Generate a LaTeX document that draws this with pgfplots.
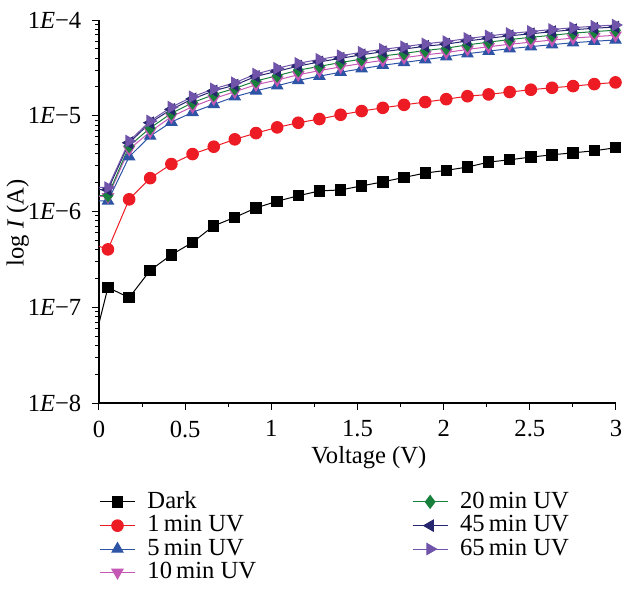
\documentclass[border=0pt]{standalone}
\usepackage{fontspec}
\setmainfont{Liberation Serif}
\usepackage{pgfplots}
\usepackage{pgfplotstable}
\pgfplotsset{compat=1.18}
\definecolor{redc}{RGB}{237,28,36}
\definecolor{bluec}{RGB}{46,84,166}
\definecolor{magc}{RGB}{196,88,180}
\definecolor{greenc}{RGB}{24,128,60}
\definecolor{navyc}{RGB}{38,38,110}
\definecolor{purc}{RGB}{112,84,170}
\pgfplotstableread{
x dark r1 r5 r10 r20 r45 r65
-0.071 2.1e-8 4.8e-7 1.30e-6 1.42e-6 1.47e-6 1.70e-6 1.80e-6
0.052 1.61e-7 4.02e-7 1.29e-6 1.42e-6 1.47e-6 1.69e-6 1.78e-6
0.175 1.26e-7 1.34e-6 3.73e-6 4.46e-6 4.83e-6 5.22e-6 5.44e-6
0.297 2.43e-7 2.23e-6 6.14e-6 6.81e-6 7.45e-6 8.45e-6 8.81e-6
0.420 3.53e-7 3.13e-6 8.59e-6 9.77e-6 1.06e-5 1.167e-5 1.23e-5
0.543 4.76e-7 3.98e-6 1.086e-5 1.245e-5 1.37e-5 1.50e-5 1.58e-5
0.666 7.09e-7 4.75e-6 1.315e-5 1.51e-5 1.66e-5 1.82e-5 1.91e-5
0.788 8.68e-7 5.67e-6 1.58e-5 1.78e-5 1.93e-5 2.09e-5 2.21e-5
0.911 1.09e-6 6.59e-6 1.82e-5 2.11e-5 2.31e-5 2.58e-5 2.73e-5
1.034 1.28e-6 7.56e-6 2.06e-5 2.36e-5 2.62e-5 2.91e-5 3.13e-5
1.156 1.46e-6 8.45e-6 2.34e-5 2.68e-5 2.99e-5 3.30e-5 3.53e-5
1.279 1.64e-6 9.24e-6 2.59e-5 2.96e-5 3.28e-5 3.65e-5 3.88e-5
1.402 1.68e-6 1.024e-5 2.85e-5 3.24e-5 3.60e-5 3.98e-5 4.24e-5
1.524 1.85e-6 1.12e-5 3.10e-5 3.52e-5 3.90e-5 4.33e-5 4.60e-5
1.647 2.04e-6 1.21e-5 3.37e-5 3.79e-5 4.21e-5 4.66e-5 4.94e-5
1.770 2.27e-6 1.30e-5 3.60e-5 4.04e-5 4.48e-5 4.97e-5 5.26e-5
1.893 2.52e-6 1.39e-5 3.86e-5 4.33e-5 4.80e-5 5.32e-5 5.64e-5
2.015 2.69e-6 1.49e-5 4.13e-5 4.57e-5 5.08e-5 5.60e-5 5.96e-5
2.138 2.91e-6 1.60e-5 4.45e-5 4.93e-5 5.50e-5 6.04e-5 6.41e-5
2.261 3.28e-6 1.67e-5 4.73e-5 5.26e-5 5.87e-5 6.44e-5 6.82e-5
2.383 3.47e-6 1.77e-5 5.02e-5 5.58e-5 6.25e-5 6.84e-5 7.23e-5
2.506 3.70e-6 1.87e-5 5.27e-5 5.87e-5 6.59e-5 7.18e-5 7.59e-5
2.629 3.91e-6 1.96e-5 5.53e-5 6.18e-5 6.93e-5 7.55e-5 7.96e-5
2.751 4.10e-6 2.04e-5 5.79e-5 6.47e-5 7.29e-5 7.91e-5 8.31e-5
2.874 4.31e-6 2.14e-5 6.00e-5 6.71e-5 7.57e-5 8.20e-5 8.61e-5
2.997 4.63e-6 2.23e-5 6.18e-5 6.92e-5 7.82e-5 8.45e-5 8.87e-5
}\datatable
\pgfplotsset{
  sDark/.style={black, mark=square*, mark size=2.6pt, mark options={solid,fill=black}},
  s1/.style={redc, mark=*, mark size=2.9pt, mark options={solid,fill=redc}},
  s5/.style={bluec, mark=triangle*, mark size=3.2pt, mark options={solid,fill=bluec}},
  s10/.style={magc, mark=triangle*, mark size=3.2pt, mark options={solid,fill=magc,rotate=180}},
  s20/.style={greenc, mark=diamond*, mark size=3.2pt, mark options={solid,fill=greenc}},
  s45/.style={navyc, mark=triangle*, mark size=3.2pt, mark options={solid,fill=navyc,rotate=90}},
  s65/.style={purc, mark=triangle*, mark size=3.2pt, mark options={solid,fill=purc,rotate=-90}},
}
\newcommand{\series}[2]{%
  \addplot[#1, no marks, forget plot, skip coords between index={2}{30}] table[x=x,y=#2]{\datatable};
  \addplot[#1, forget plot, skip coords between index={0}{1}] table[x=x,y=#2]{\datatable};
}
\begin{document}
\fontsize{12.3}{14}\selectfont
\begin{tikzpicture}
\useasboundingbox (-49.5pt,-95pt) rectangle (262pt,201.5pt);
\begin{axis}[
  at={(0,0)}, anchor=south west,
  width=258.5pt, height=191.5pt, scale only axis,
  xmin=0, xmax=3, ymin=1e-8, ymax=1e-4, ymode=log,
  axis x line*=bottom, axis y line*=left,
  axis line style={line width=0.6pt, -},
  tick style={line width=0.5pt, black},
  tick align=outside,
  major tick length=3.5pt, minor tick length=2pt,
  xtick={0,0.5,1,1.5,2,2.5,3}, minor x tick num=1,
  xticklabels={0,0.5,1,1.5,2,2.5,3},
  ytick={1e-8,1e-7,1e-6,1e-5,1e-4},
  yticklabels={1\textit{E}−8,1\textit{E}−7,1\textit{E}−6,1\textit{E}−5,1\textit{E}−4},
  /pgf/number format/assume math mode=true,
  xticklabel style={yshift=-1pt},
  yticklabel style={xshift=-1pt},
  xlabel={Voltage (V)},
  ylabel={log \textit{I} (A)},
  every axis x label/.style={at={(axis description cs:0.522,0)}, anchor=center, yshift=-27.5pt},
  every axis y label/.style={at={(axis description cs:-0.157,0.47)}, anchor=center, rotate=90},
  line width=0.5pt,
  legend columns=2,
  legend cell align=left,
  legend style={at={(axis description cs:0,0)}, anchor=north west, xshift=0pt, yshift=-42pt,
    draw=none, fill=none, inner sep=0pt, row sep=-2.3pt,
    /tikz/every odd column/.append style={column sep=4pt},
    /tikz/every even column/.append style={column sep=76pt},
    nodes={inner sep=2pt}},
  legend image code/.code={\draw[mark repeat=2,mark phase=2] plot coordinates {(0pt,0pt) (8.75pt,0pt) (17.5pt,0pt)};},
  clip=true,
]
\series{sDark}{dark}
\series{s1}{r1}
\series{s5}{r5}
\series{s10}{r10}
\series{s20}{r20}
\series{s45}{r45}
\series{s65}{r65}
\addlegendimage{sDark}\addlegendentry{Dark}
\addlegendimage{s20}\addlegendentry{20\,min UV}
\addlegendimage{s1}\addlegendentry{1\,min UV}
\addlegendimage{s45}\addlegendentry{45\,min UV}
\addlegendimage{s5}\addlegendentry{5\,min UV}
\addlegendimage{s65}\addlegendentry{65\,min UV}
\addlegendimage{s10}\addlegendentry{10\,min UV}
\end{axis}
\end{tikzpicture}
\end{document}
